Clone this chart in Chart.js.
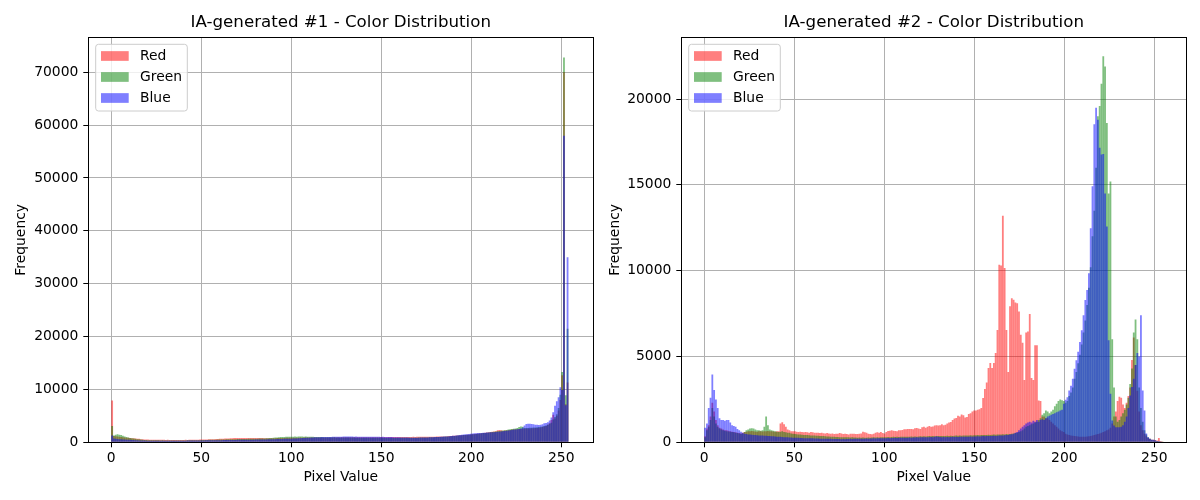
<!DOCTYPE html>
<html>
<head>
<meta charset="utf-8">
<title>IA-generated - Color Distribution</title>
<script src="https://cdn.jsdelivr.net/npm/chart.js@4.4.1/dist/chart.umd.min.js"></script>
<style>
  html, body { margin: 0; padding: 0; background: #fff; }
  .panel { position: absolute; top: 0; width: 600px; height: 500px; }
  #left { left: 0; }
  #right { left: 600px; }
</style>
</head>
<body>
<div class="panel" id="left"><canvas id="chart1" width="600" height="500"></canvas></div>
<div class="panel" id="right"><canvas id="chart2" width="600" height="500"></canvas></div>
<script>
// ---- data (256 bins over pixel values 0..255) ----
const binCenters = Array.from({ length: 256 }, (_, i) => (i + 0.5) * 255 / 256);
const xTicks = [0, 50, 100, 150, 200, 250];
const yTicks1 = [0, 10000, 20000, 30000, 40000, 50000, 60000, 70000];
const yTicks2 = [0, 5000, 10000, 15000, 20000];
const titles = ["IA-generated #1 - Color Distribution", "IA-generated #2 - Color Distribution"];
const channelLabels = ["Red", "Green", "Blue"];

// image #1
const red1 = [
  7900,1200,1150,1100,1050,1000,950,900,880,850,820,
  780,760,720,690,650,600,560,540,520,510,
  500,490,480,470,480,470,460,470,460,450,460,450,440,450,440,430,440,450,440,450,
  460,450,470,460,480,470,490,500,510,520,540,530,550,560,570,590,600,620,640,660,
  680,690,700,720,740,760,780,790,800,790,800,810,800,820,810,800,820,810,800,820,
  810,820,800,790,780,770,760,780,770,760,780,790,800,810,820,830,840,850,860,860,
  870,870,880,880,890,880,890,900,890,900,900,910,900,910,920,910,920,930,920,930,
  930,920,930,940,930,940,930,940,950,940,950,940,950,960,950,940,950,960,950,960,
  950,960,950,960,970,960,970,960,970,980,970,980,970,980,990,980,990,1000,990,1000,
  1000,1010,1000,1010,1020,1010,1020,1030,1020,1030,1040,1030,1040,1050,1040,1050,1060,1050,1060,1070,
  1100,1120,1110,1100,1090,1120,1150,1180,1200,1230,1260,1280,1300,1320,1350,1380,1400,1420,1450,1480,
  1520,1560,1600,1640,1680,1720,1760,1800,1850,1900,1950,2000,2050,2100,2300,2350,2300,2200,2250,2250,
  2300,2350,2400,2400,2450,2450,2500,2500,2550,2550,2600,2600,2600,2650,2650,2700,2700,2750,2800,2900,
  3000,3100,3300,3600,4200,5200,4500,5000,6000,8000,12700,70000,7200,11300,0
];
const green1 = [
  3100,1300,1450,1500,1450,1400,1250,1100,1000,900,820,
  760,700,650,600,560,520,480,450,430,410,
  400,390,380,380,370,370,360,370,360,360,350,360,350,350,340,350,340,350,350,360,
  360,370,370,380,380,390,400,400,410,420,430,440,450,460,470,480,490,500,510,520,
  530,540,550,560,570,580,590,600,600,610,620,620,630,640,640,650,660,660,670,680,
  690,700,710,720,740,760,780,800,830,860,900,920,950,980,1000,1020,1040,1050,1060,1060,
  1070,1080,1070,1080,1090,1080,1070,1080,1060,1050,1040,1030,1020,1010,1000,990,980,970,960,960,
  950,950,940,940,930,930,920,920,910,910,900,900,900,890,890,880,880,870,870,870,
  860,860,860,850,850,850,850,840,840,840,840,830,830,830,830,820,820,820,830,830,
  840,840,850,850,860,860,870,870,880,880,890,900,900,910,920,930,940,950,960,970,
  980,1000,1020,1040,1060,1080,1100,1120,1150,1180,1210,1240,1270,1300,1330,1360,1390,1420,1450,1480,
  1510,1540,1580,1620,1660,1700,1740,1780,1820,1860,1900,1950,2000,2050,2100,2150,2200,2250,2300,2350,
  2400,2450,2500,2550,2600,2700,2900,3000,2950,2700,2700,2700,2750,2750,2800,2800,2850,2900,2950,3000,
  3100,3200,3300,3500,3700,4300,4800,5300,6500,9000,13300,72800,8900,21500,0
];
const blue1 = [
  1300,700,650,620,600,580,550,520,500,480,460,
  440,420,400,380,360,340,330,320,310,300,
  300,290,290,280,280,280,270,280,270,270,280,270,280,290,280,290,300,290,300,310,
  310,320,320,330,330,340,340,350,350,360,360,370,370,380,380,390,390,400,400,410,
  410,420,420,430,430,440,440,450,450,460,460,470,470,480,480,490,490,500,500,510,
  510,520,520,530,540,550,560,570,580,590,600,610,620,630,640,650,660,670,680,690,
  700,720,740,760,780,800,820,840,860,880,900,920,940,950,960,970,980,990,1000,1000,
  1010,1020,1030,1040,1050,1060,1070,1070,1080,1080,1090,1080,1090,1080,1070,1080,1070,1060,1070,1060,
  1050,1060,1050,1040,1050,1040,1030,1040,1030,1020,1030,1020,1010,1000,990,980,970,960,950,940,
  930,920,910,900,890,880,880,870,870,880,880,890,900,910,920,930,940,950,960,980,
  1000,1020,1040,1060,1080,1100,1120,1150,1180,1220,1260,1300,1340,1380,1420,1460,1500,1540,1580,1620,
  1660,1700,1720,1740,1760,1780,1800,1820,1840,1860,1880,1900,1920,1950,1980,2000,2050,2100,2150,2200,
  2250,2300,2350,2400,2400,2450,2500,2600,2800,3200,3450,3500,3500,3450,3400,3300,3300,3250,3300,3400,
  3600,3650,3800,4100,4700,5660,6900,7750,8500,10400,9900,58000,7000,35000,0
];

// image #2
const red2 = [
  350,800,1000,1500,2300,1800,1300,1000,850,800,750,700,700,680,650,620,600,580,560,540,520,
  560,600,620,640,650,660,640,630,620,650,640,630,650,640,660,650,640,630,620,640,650,
  1100,1170,1050,900,750,700,
  650,640,650,620,600,620,600,580,600,580,560,600,580,560,550,560,540,550,530,520,540,520,
  500,520,480,500,500,540,520,480,500,480,460,500,500,500,480,480,500,520,620,580,560,500,480,470,500,560,580,560,600,540,520,
  600,660,680,700,680,660,650,700,700,720,760,760,770,780,770,760,820,840,800,780,
  880,900,850,900,950,900,920,980,1000,980,1000,1050,1000,1020,1100,1150,1180,1300,1380,1420,
  1550,1500,1620,1580,1450,1480,1650,1700,1800,1850,
  1850,1900,1930,2000,2580,3100,3490,4330,4620,4330,4620,5200,6550,10350,10300,
  13200,10150,6550,4100,7930,8400,8300,8150,8100,7620,6260,5800,3630,6400,6450,
  7480,3750,3630,5650,5650,2430,2400,1500,1500,1400,1400,1300,1200,1100,1000,900,800,700,650,600,
  500,450,420,400,380,360,350,340,330,320,320,330,340,350,370,400,420,450,480,520,
  560,600,650,700,750,850,1100,1500,1800,2400,2650,2600,2200,2000,2300,2700,3200,4800,6100,4500,
  3000,1800,1000,700,500,350,250,200,150,150,120,100,250,80,50
];
const green2 = [
  300,700,900,1300,2000,1500,1100,900,800,750,700,680,650,630,620,600,580,560,540,520,500,
  520,600,700,750,800,820,800,750,700,700,680,700,900,1500,1000,750,700,680,650,620,600,620,650,600,580,560,550,520,500,
  480,470,460,450,440,430,420,420,410,400,400,390,380,380,370,360,360,350,340,340,
  330,320,320,310,310,300,300,290,300,290,290,280,290,280,280,270,280,270,280,270,
  270,280,270,280,290,280,290,280,300,290,300,
  300,310,300,310,320,310,320,310,320,330,320,330,320,330,340,330,340,330,340,350,
  340,350,340,350,360,350,360,350,360,370,360,370,360,370,380,370,380,370,380,390,
  380,390,380,390,400,390,400,410,400,410,
  410,420,410,420,430,420,430,440,430,440,450,440,450,460,450,470,460,480,470,490,
  500,520,540,560,600,650,700,800,900,950,1000,1050,1100,1150,1200,1300,1400,1600,1700,1850,
  1800,1700,1800,1900,2100,2250,2400,2500,2450,2400,
  2300,2400,2700,2900,3200,3700,4100,4600,5100,5700,6400,7100,8000,9000,10200,12000,13500,16000,19000,19600,
  20900,22500,21900,18600,14500,15200,6000,3200,1500,1200,1300,1500,1700,1900,2200,2600,3400,4300,6400,7150,
  6000,3200,2000,1200,700,450,300,200,150,120,100,80,60,40,20
];
const blue2 = [
  850,1100,2000,2600,3950,3050,2500,2000,1400,1300,1300,1250,1300,1300,1150,1000,950,900,780,700,620,
  550,500,480,460,450,440,430,420,410,400,400,390,380,380,370,360,350,350,340,330,330,320,310,300,300,290,280,280,270,
  270,260,260,250,250,240,240,240,230,230,230,220,220,220,210,210,210,200,200,200,
  200,190,190,190,190,190,180,190,180,190,190,200,190,200,200,200,210,200,210,210,
  220,210,220,220,230,220,230,230,240,230,240,
  240,250,240,250,250,260,250,260,260,270,260,270,270,280,270,280,280,290,280,290,
  290,300,290,300,300,310,300,330,340,330,310,300,310,300,310,300,310,320,310,320,
  310,320,330,320,330,320,330,340,330,340,
  340,350,340,350,360,350,360,370,360,370,380,370,380,390,400,400,410,420,430,450,
  470,500,550,600,700,800,900,1000,1100,1150,1200,1150,1250,1200,1300,1200,1300,1350,1300,1400,
  1500,1550,1600,1650,1700,1750,1800,1850,1900,2250,
  2480,2630,3020,3300,3700,4290,4780,5270,5850,6530,7410,8290,8870,9850,12480,14920,18530,19500,18800,17160,
  16770,16800,14500,12580,5950,2830,1270,980,880,880,880,900,1000,1200,1500,2000,2730,3220,3710,4500,
  5200,5000,7400,3020,1850,510,300,200,150,150,120,80,60,50,30
];

// ---- styling ----
Chart.defaults.font.family = "'DejaVu Sans', sans-serif";
Chart.defaults.color = "#000";

const channelColors = ["rgba(255, 0, 0, 0.5)", "rgba(0, 128, 0, 0.5)", "rgba(0, 0, 255, 0.5)"];
const tickFont = { size: 13.89 };

// black frame round the plot area (matplotlib spines)
const framePlugin = {
  id: "frame",
  afterDraw(chart) {
    const { ctx, chartArea: a } = chart;
    ctx.save();
    ctx.strokeStyle = "#000";
    ctx.lineWidth = 1;
    const l = Math.round(a.left) + 0.5, t = Math.round(a.top) + 0.5;
    const r = Math.round(a.right) + 0.5, b = Math.round(a.bottom) + 0.5;
    ctx.strokeRect(l, t, r - l, b - t);
    ctx.restore();
  }
};

// title centred on the plot area, plus legend box in the upper left corner
const panelPlugin = {
  id: "panel",
  afterDraw(chart, args, opts) {
    const { ctx, chartArea: a } = chart;
    ctx.save();
    ctx.fillStyle = "#000";
    ctx.font = "16.67px 'DejaVu Sans'";
    ctx.textAlign = "center";
    ctx.textBaseline = "middle";
    ctx.fillText(opts.title, (a.left + a.right) / 2, 22.3);

    const x = a.left + 7.4, y = a.top + 7, w = 91.6, h = 66.7;
    ctx.beginPath();
    ctx.roundRect(x, y, w, h, 2.8);
    ctx.fillStyle = "rgba(255, 255, 255, 0.8)";
    ctx.fill();
    ctx.strokeStyle = "#cccccc";
    ctx.lineWidth = 1;
    ctx.stroke();

    ctx.font = "13.89px 'DejaVu Sans'";
    ctx.textAlign = "left";
    chart.data.datasets.forEach((ds, i) => {
      const cy = a.top + 18.7 + i * 21;
      ctx.fillStyle = ds.backgroundColor;
      ctx.fillRect(x + 5.3, cy - 4.85, 27.7, 9.7);
      ctx.fillStyle = "#000";
      ctx.fillText(ds.label, x + 44.3, cy + 0.5);
    });
    ctx.restore();
  }
};

function makeChart(canvasId, title, channels, yMax, yTicks, yWidth, rightPad, yTitlePad) {
  const datasets = channels.map((values, c) => ({
    label: channelLabels[c],
    data: binCenters.map((x, i) => ({ x: x, y: values[i] })),
    backgroundColor: channelColors[c],
    borderWidth: 0,
    inflateAmount: 0,
    order: 2 - c,          // blue drawn last, on top
    grouped: false,
    barPercentage: 1,
    categoryPercentage: 1
  }));

  return new Chart(document.getElementById(canvasId), {
    type: "bar",
    data: { datasets: datasets },
    options: {
      responsive: false,
      animation: false,
      layout: { padding: { left: 0, right: rightPad, top: 37.3, bottom: 0 } },
      plugins: {
        legend: { display: false },
        tooltip: { enabled: false },
        title: { display: false },
        panel: { title: title }
      },
      scales: {
        x: {
          type: "linear",
          min: -12.75,
          max: 267.75,
          offset: false,
          z: 1,
          afterBuildTicks: s => { s.ticks = xTicks.map(v => ({ value: v })); },
          afterFit: s => { s.height = 57.7; },
          grid: { offset: false, color: "#b0b0b0", lineWidth: 1, tickColor: "#000", tickLength: 5 },
          border: { color: "#000", width: 1 },
          ticks: { font: tickFont, padding: 3, maxRotation: 0, autoSkip: false, callback: v => String(v) },
          title: { display: true, text: "Pixel Value", font: tickFont, padding: { top: 0, bottom: 14.7 } }
        },
        y: {
          type: "linear",
          min: 0,
          max: yMax,
          z: 1,
          afterBuildTicks: s => { s.ticks = yTicks.map(v => ({ value: v })); },
          afterFit: s => { s.width = yWidth; },
          grid: { color: "#b0b0b0", lineWidth: 1, tickColor: "#000", tickLength: 5 },
          border: { color: "#000", width: 1 },
          ticks: { font: tickFont, padding: 5, autoSkip: false, callback: v => String(v) },
          title: { display: true, text: "Frequency", font: tickFont, padding: { top: yTitlePad, bottom: 0 } }
        }
      }
    },
    plugins: [framePlugin, panelPlugin]
  });
}

makeChart("chart1", titles[0], [red1, green1, blue1], 76600, yTicks1, 88.3, 6.8, 13.4);
makeChart("chart2", titles[1], [red2, green2, blue2], 23600, yTicks2, 81.3, 13.7, 6.7);
</script>
</body>
</html>
